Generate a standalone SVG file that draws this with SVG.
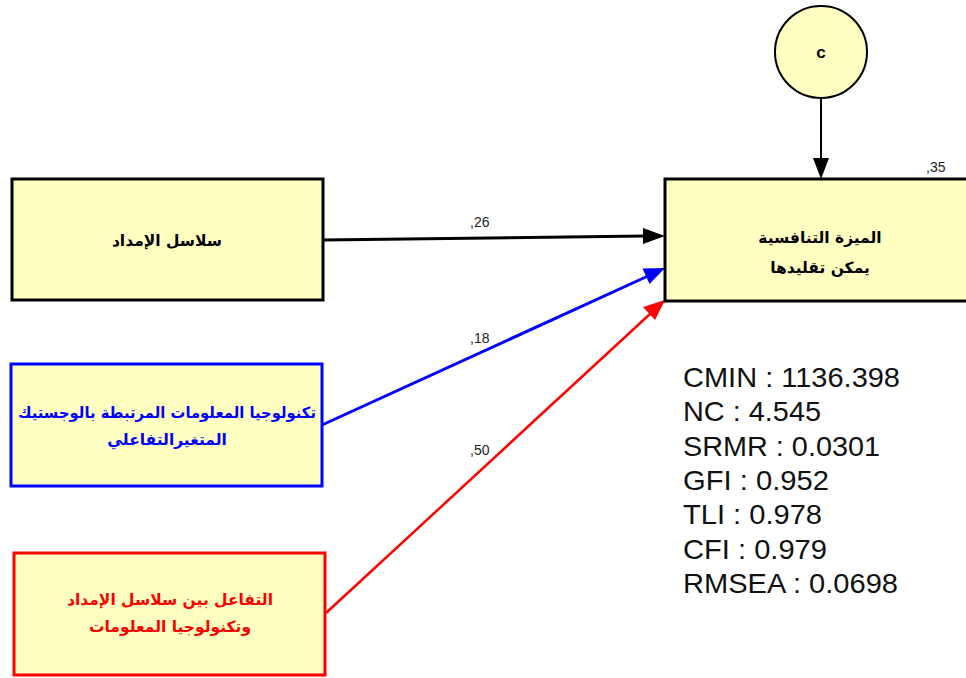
<svg xmlns="http://www.w3.org/2000/svg" width="966" height="678" viewBox="0 0 966 678">
  <style>
    .box { fill: #ffffc2; stroke-width: 3; }
    .ar { font-family: "DejaVu Sans", "Noto Sans", sans-serif; font-weight: bold; font-size: 15.5px; text-anchor: middle; }
    .lbl { font-family: "Liberation Sans", Arial, sans-serif; font-size: 14px; fill: #222; }
    .fit { font-family: "Liberation Sans", Arial, sans-serif; font-size: 28px; fill: #111; }
    .edge { fill: none; }
  </style>
  <rect x="0" y="0" width="966" height="678" fill="#ffffff"/>

  <g id="connectors">
    <!-- error term to outcome -->
    <line class="edge" x1="821" y1="99" x2="821" y2="161" stroke="#000" stroke-width="2"/>
    <path d="M813,158 L829,158 L821,179 z" fill="#000"/>
    <!-- supply chains -->
    <line class="edge" x1="323" y1="240" x2="645" y2="236" stroke="#000" stroke-width="3"/>
    <path d="M643,228 L665,236 L643,244 z" fill="#000"/>
    <text class="lbl" x="470" y="227">,26</text>
    <!-- IT -->
    <line class="edge" x1="322" y1="425" x2="648" y2="276" stroke="#0000ff" stroke-width="3"/>
    <path d="M642.5,268.5 L665,268 L649.5,284 z" fill="#0000ff"/>
    <text class="lbl" x="470" y="343">,18</text>
    <!-- interaction -->
    <line class="edge" x1="326" y1="613" x2="650" y2="314" stroke="#ff0000" stroke-width="2.5"/>
    <path d="M643,307 L665,300 L655,320 z" fill="#ff0000"/>
    <text class="lbl" x="470" y="455">,50</text>
  </g>

  <g id="node-error">
    <circle cx="821" cy="52" r="46" fill="#ffffc2" stroke="#000" stroke-width="2"/>
    <text x="821" y="58" font-family="Liberation Sans, Arial, sans-serif" font-weight="bold" font-size="17" text-anchor="middle">c</text>
  </g>

  <g id="node-supply">
    <rect class="box" x="12" y="179" width="311" height="121" stroke="#000"/>
    <text class="ar" x="167" y="246" fill="#000">سلاسل الإمداد</text>
  </g>

  <g id="node-it">
    <rect class="box" x="11" y="364" width="311" height="122" stroke="#0000ff"/>
    <text class="ar" x="167" y="418" fill="#0000ff" textLength="298" lengthAdjust="spacingAndGlyphs">تكنولوجيا المعلومات المرتبطة بالوجستيك</text>
    <text class="ar" x="167" y="445" fill="#0000ff">المتغيرالتفاعلي</text>
  </g>

  <g id="node-interaction">
    <rect class="box" x="14" y="553" width="311" height="122" stroke="#ff0000"/>
    <text class="ar" x="170" y="605" fill="#ff0000">التفاعل بين سلاسل الإمداد</text>
    <text class="ar" x="170" y="632" fill="#ff0000">وتكنولوجيا المعلومات</text>
  </g>

  <g id="node-advantage">
    <rect class="box" x="665" y="179" width="310" height="122" stroke="#000"/>
    <text class="ar" x="820" y="243" fill="#000">الميزة التنافسية</text>
    <text class="ar" x="820" y="273" fill="#000">يمكن تقليدها</text>
    <text class="lbl" x="926" y="172">,35</text>
  </g>

  <g id="fit-indices">
    <text class="fit" x="683" y="387" textLength="217" lengthAdjust="spacingAndGlyphs">CMIN : 1136.398</text>
    <text class="fit" x="683" y="421" textLength="138" lengthAdjust="spacingAndGlyphs">NC : 4.545</text>
    <text class="fit" x="683" y="456" textLength="197" lengthAdjust="spacingAndGlyphs">SRMR : 0.0301</text>
    <text class="fit" x="683" y="490" textLength="146" lengthAdjust="spacingAndGlyphs">GFI : 0.952</text>
    <text class="fit" x="683" y="524" textLength="139" lengthAdjust="spacingAndGlyphs">TLI : 0.978</text>
    <text class="fit" x="683" y="559" textLength="144" lengthAdjust="spacingAndGlyphs">CFI : 0.979</text>
    <text class="fit" x="683" y="593" textLength="215" lengthAdjust="spacingAndGlyphs">RMSEA : 0.0698</text>
  </g>
</svg>
